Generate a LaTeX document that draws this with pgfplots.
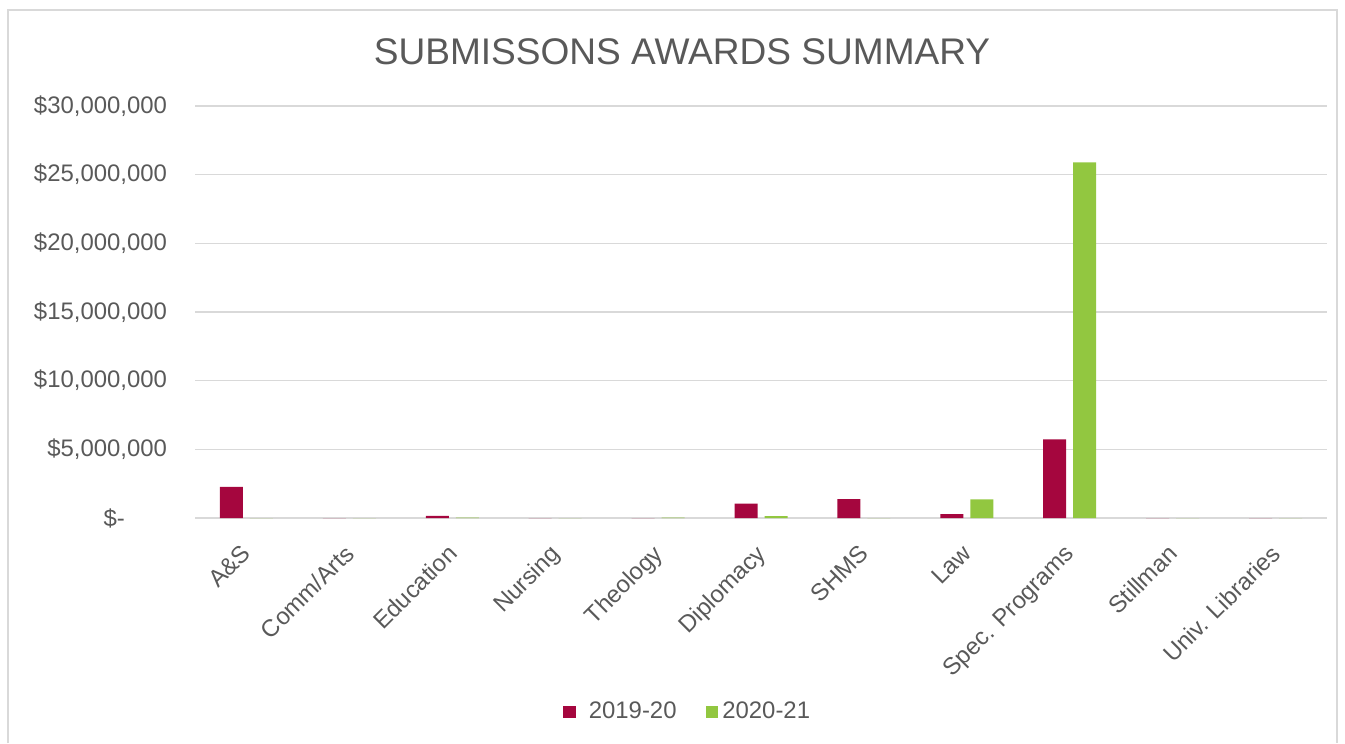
\documentclass[border=0pt]{standalone}
\usepackage{pgfplots}
\pgfplotsset{compat=1.18}
\usepackage{fontspec}
\setmainfont{Liberation Sans}
\definecolor{txtgray}{HTML}{595959}
\definecolor{gridgray}{HTML}{D9D9D9}
\definecolor{barred}{HTML}{A5063E}
\definecolor{bargreen}{HTML}{92C740}
\begin{document}
\begin{tikzpicture}
\path (0bp,0bp) rectangle (672.5bp,-371.5bp);
\draw[gridgray,line width=0.8bp] (4bp,-371.5bp) -- (4bp,-5bp) -- (668.5bp,-5bp) -- (668.5bp,-371.5bp);
\node[text=txtgray,font=\fontsize{18.6}{22}\selectfont] at (341bp,-26bp) {SUBMISSONS AWARDS SUMMARY};
\begin{axis}[
  at={(97.5bp,-259bp)}, anchor=south west,
  scale only axis, width=566bp, height=206bp,
  ybar=3.5bp, bar width=11.5bp,
  xmin=-0.5, xmax=10.5, ymin=0, ymax=30000000,
  axis line style={draw=none},
  major tick length=0pt,
  ymajorgrids, grid style={gridgray,line width=0.8bp},
  ytick={0,5000000,10000000,15000000,20000000,25000000,30000000},
  yticklabels={{\$-\rule{21bp}{0pt}},{\$5,000,000},{\$10,000,000},{\$15,000,000},{\$20,000,000},{\$25,000,000},{\$30,000,000}},
  scaled y ticks=false,
  yticklabel style={anchor=east,xshift=-10.5bp},
  xtick={0,1,2,3,4,5,6,7,8,9,10},
  xticklabels={A\&S,Comm/Arts,Education,Nursing,Theology,Diplomacy,SHMS,Law,Spec. Programs,Stillman,Univ. Libraries},
  xticklabel style={rotate=45,anchor=north east,inner sep=1bp,xshift=-9.9bp,yshift=-5.6bp},
  tick label style={text=txtgray,font=\fontsize{12}{14}\selectfont},
  legend columns=2,
  legend style={at={(0.436,-0.471)},anchor=center,draw=none,fill=none,
    font=\fontsize{12}{14}\selectfont,text=txtgray,
    /tikz/every even column/.append style={column sep=12.5bp}},
  legend image code/.code={\fill[#1] (0bp,-3.2bp) rectangle (6.4bp,3.2bp);},
]
\addplot[fill=barred,draw=none] coordinates {(0,2260000) (1,0) (2,150000) (3,0) (4,0) (5,1040000) (6,1380000) (7,290000) (8,5730000) (9,0) (10,0)};
\addplot[fill=bargreen,draw=none] coordinates {(0,0) (1,0) (2,30000) (3,0) (4,20000) (5,140000) (6,0) (7,1360000) (8,25900000) (9,0) (10,0)};
\legend{\hspace{4.5bp}2019-20,2020-21}
\end{axis}
\end{tikzpicture}
\end{document}
